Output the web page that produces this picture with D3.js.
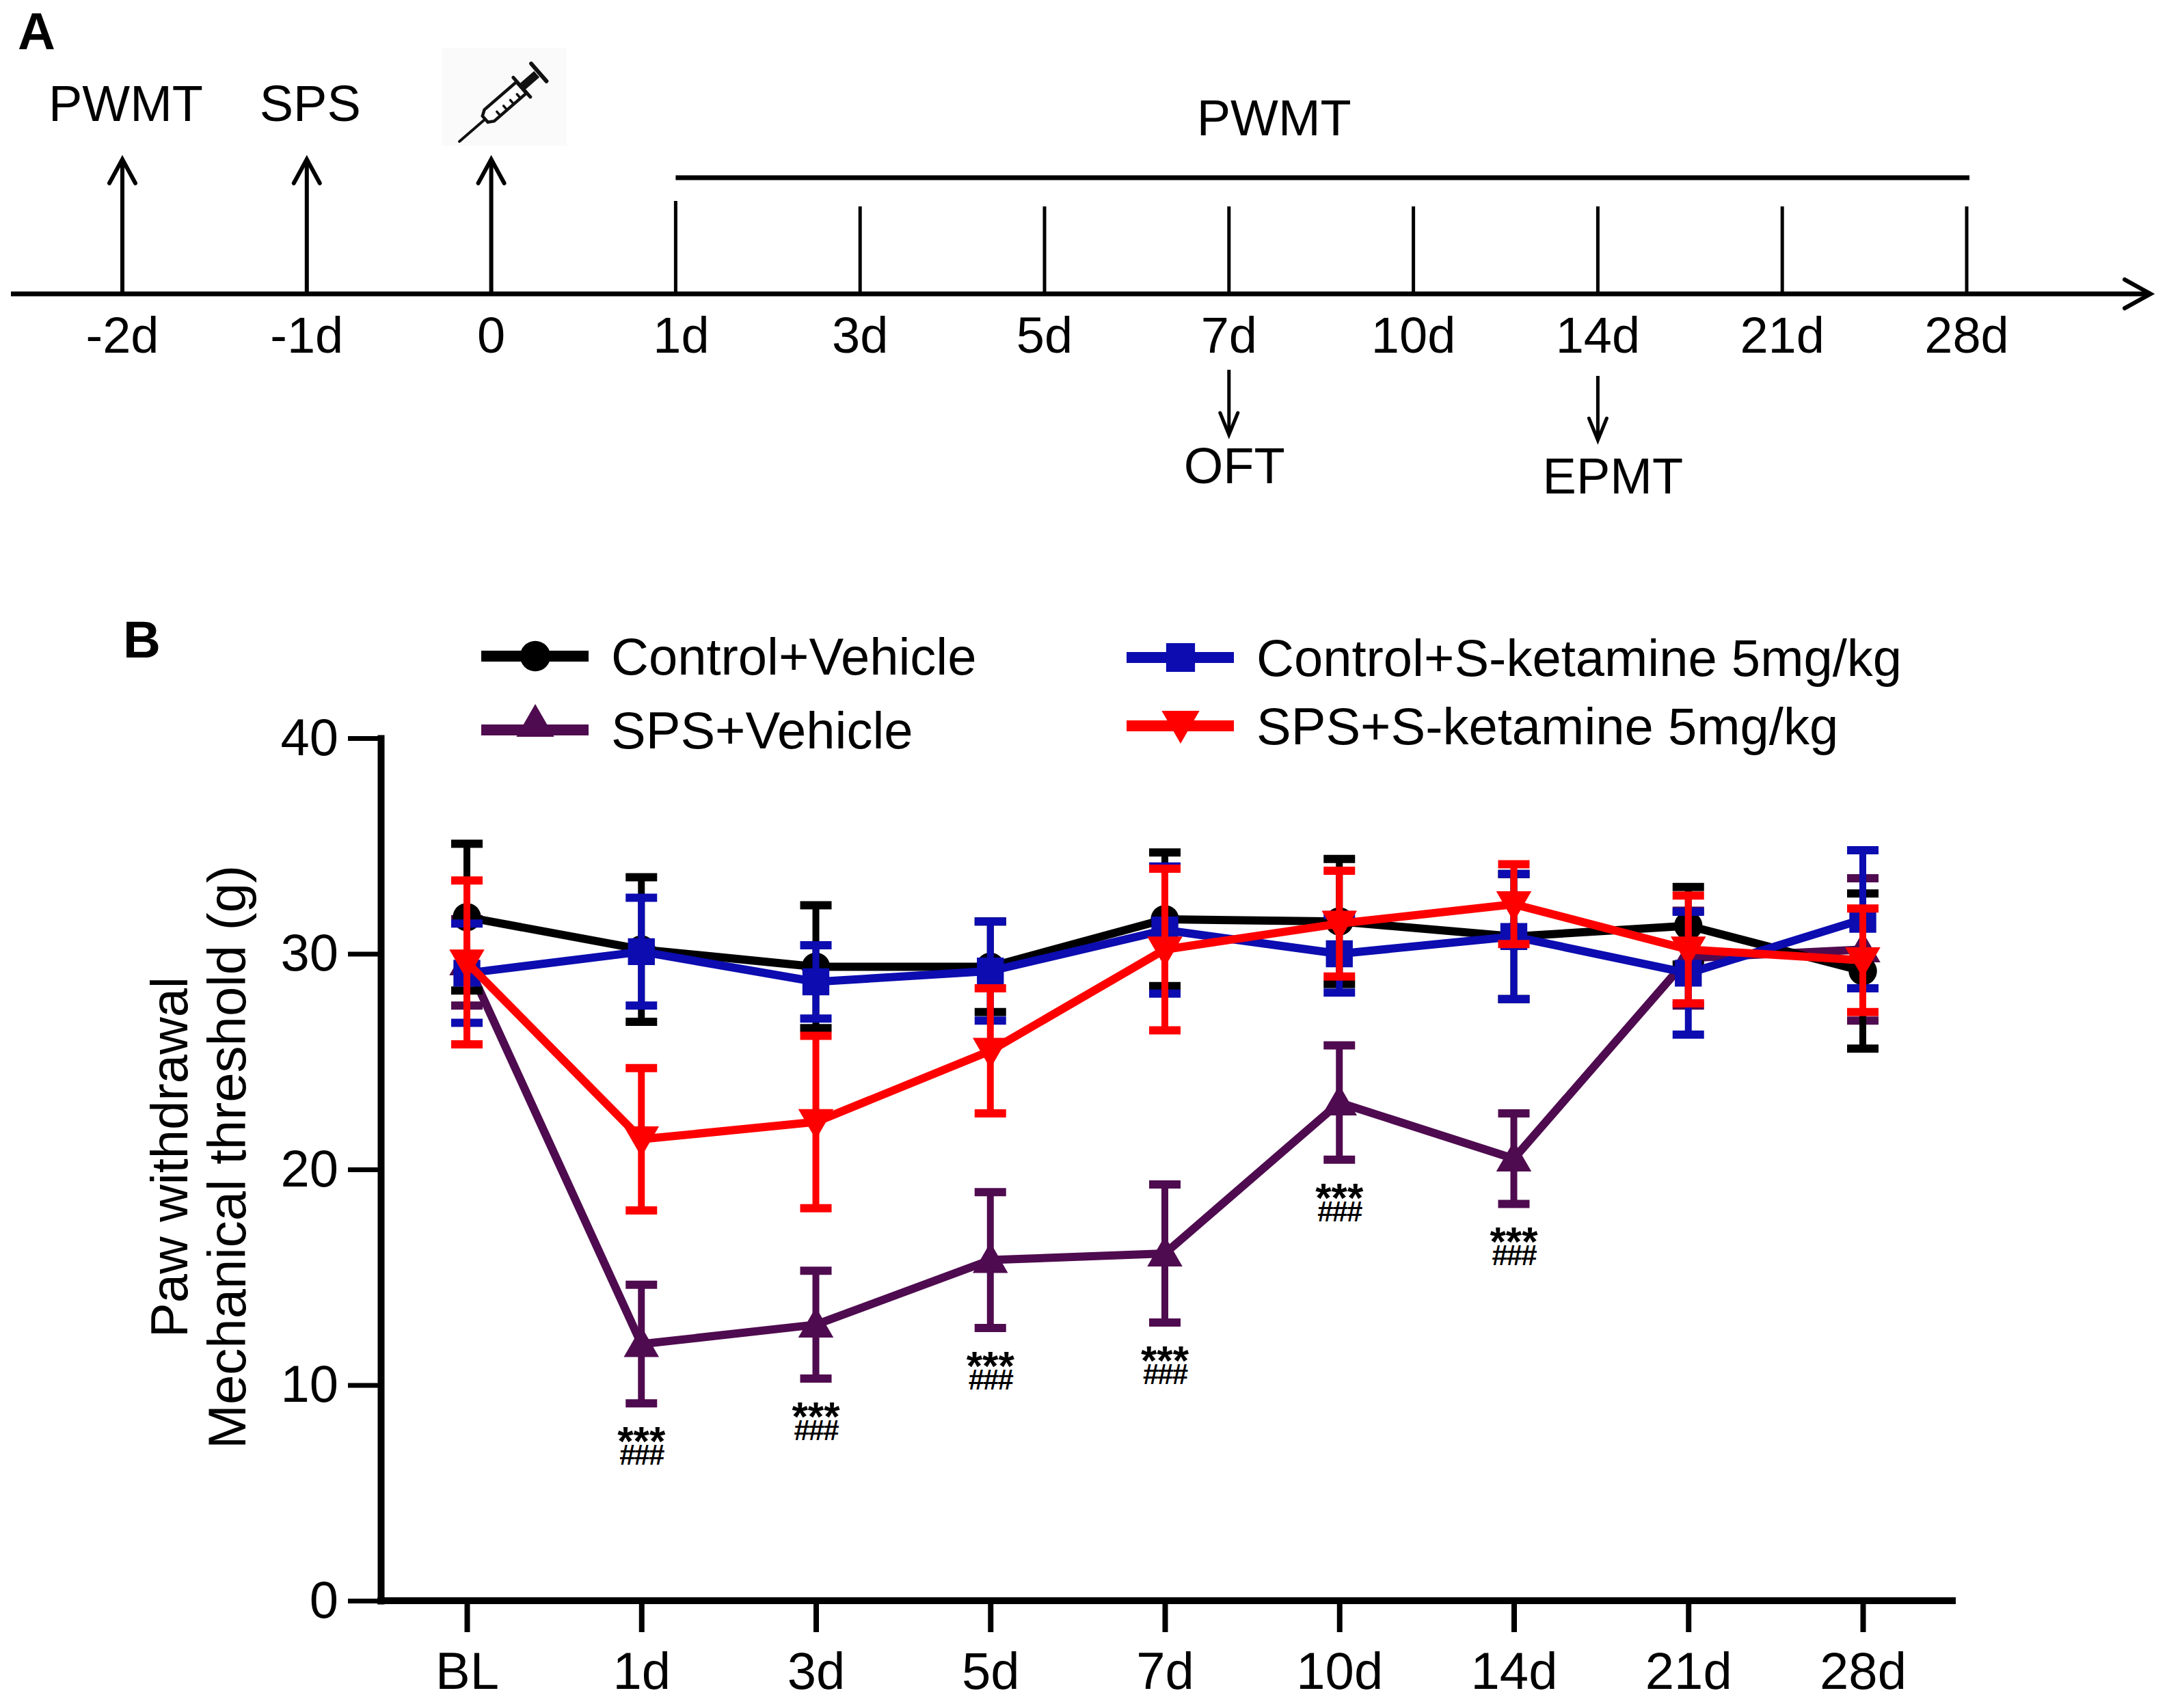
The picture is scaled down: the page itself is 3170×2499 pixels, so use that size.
<!DOCTYPE html>
<html>
<head>
<meta charset="utf-8">
<script src="https://cdn.jsdelivr.net/npm/d3@7/dist/d3.min.js"></script>
<style>
  html, body { margin: 0; padding: 0; background: #fff; }
  text { font-family: "Liberation Sans", Arial, Helvetica, sans-serif; }
</style>
</head>
<body>
<svg id="chart" width="3170" height="2499"></svg>
<script>
// ---------------- DATA ----------------
// Panel A timeline
const timelineLabels = ["-2d", "-1d", "0", "1d", "3d", "5d", "7d", "10d", "14d", "21d", "28d"];
const upEventDays = ["-2d", "-1d", "0"];
const upEventLabels = ["PWMT", "SPS", ""]; // "" = syringe icon
const pwmtDays = ["1d", "3d", "5d", "7d", "10d", "14d", "21d", "28d"];
const downEventDays = ["7d", "14d"];
const downEventLabels = ["OFT", "EPMT"];
const pwmtBarLabel = "PWMT";

// Panel B
const days = ["BL", "1d", "3d", "5d", "7d", "10d", "14d", "21d", "28d"];
const yTicks = [0, 10, 20, 30, 40];

const seriesNames = ["Control+Vehicle", "SPS+Vehicle", "Control+S-ketamine 5mg/kg", "SPS+S-ketamine 5mg/kg"];
const ctrlVehMean = [31.7, 30.2, 29.4, 29.4, 31.6, 31.5, 30.8, 31.3, 29.2];
const ctrlVehSem  = [3.4, 3.35, 2.85, 2.1, 3.1, 2.9, 2.9, 1.8, 3.6];
const spsVehMean  = [29.6, 11.9, 12.8, 15.8, 16.1, 23.1, 20.5, 29.8, 30.2];
const spsVehSem   = [2.0, 2.75, 2.5, 3.15, 3.2, 2.65, 2.1, 2.2, 3.3];
const ctrlKetMean = [29.1, 30.1, 28.7, 29.2, 31.1, 30.0, 30.8, 29.1, 31.6];
const ctrlKetSem  = [2.3, 2.5, 1.7, 2.3, 2.95, 1.8, 2.9, 2.85, 3.2];
const spsKetMean  = [29.6, 21.4, 22.2, 25.5, 30.2, 31.4, 32.3, 30.2, 29.7];
const spsKetSem   = [3.8, 3.3, 4.0, 2.9, 3.75, 2.45, 1.85, 2.5, 2.4];

const sigDays = ["1d", "3d", "5d", "7d", "10d", "14d"];
const sigLine1 = "***";
const sigLine2 = "###";

// ---------------- STYLE ----------------
const colors = { ctrlVeh: "#000000", spsVeh: "#4f0b4f", ctrlKet: "#0c0cb0", spsKet: "#ff0000" };
const FONT = "Liberation Sans, Arial, sans-serif";

const svg = d3.select("#chart");

// =============== PANEL A ===============
svg.append("text").attr("x", 26).attr("y", 72).attr("font-size", 76).attr("font-weight", "bold").text("A");

const tx = d3.scalePoint().domain(timelineLabels).range([179, 2877]);
const tAxisY = 430;
const gA = svg.append("g");

// faint box behind syringe
gA.append("rect").attr("x", 646).attr("y", 70).attr("width", 183).attr("height", 143).attr("fill", "#fafafa");

// main axis line with arrow
gA.append("line").attr("x1", 16).attr("x2", 3146).attr("y1", tAxisY).attr("y2", tAxisY)
  .attr("stroke", "#000").attr("stroke-width", 7);
gA.append("path").attr("d", `M3108,${tAxisY - 21} L3146,${tAxisY} L3108,${tAxisY + 21}`)
  .attr("fill", "none").attr("stroke", "#000").attr("stroke-width", 6).attr("stroke-linecap", "round");

// tick labels
gA.selectAll("text.tl").data(timelineLabels).join("text").attr("class", "tl")
  .attr("x", d => tx(d) + (d === "1d" ? 8 : 0)).attr("y", 516).attr("text-anchor", "middle").attr("font-size", 74).text(d => d);

// up arrows
upEventDays.forEach((d, i) => {
  const x = tx(d);
  gA.append("line").attr("x1", x).attr("x2", x).attr("y1", tAxisY).attr("y2", 234)
    .attr("stroke", "#000").attr("stroke-width", 6);
  gA.append("path").attr("d", `M${x - 19},268 L${x},233 L${x + 19},268`)
    .attr("fill", "none").attr("stroke", "#000").attr("stroke-width", 6).attr("stroke-linecap", "round");
  if (upEventLabels[i]) {
    gA.append("text").attr("x", x + 5).attr("y", 177).attr("text-anchor", "middle").attr("font-size", 74).text(upEventLabels[i]);
  }
});

// syringe icon above "0"
(function drawSyringe() {
  const g = gA.append("g").attr("transform", `translate(672,207) rotate(-41)`)
    .attr("stroke", "#111").attr("fill", "none").attr("stroke-linecap", "round");
  g.append("line").attr("x1", 0).attr("x2", 52).attr("y1", 0).attr("y2", 0).attr("stroke-width", 4);
  g.append("path").attr("d", "M50,-6 L58,-11 L120,-11 L120,11 L58,11 L50,6 Z").attr("stroke-width", 4.5).attr("fill", "#fff");
  [70, 83, 96, 109].forEach(v => g.append("line").attr("x1", v).attr("x2", v).attr("y1", 11).attr("y2", 3).attr("stroke-width", 3.5));
  g.append("line").attr("x1", 121).attr("x2", 121).attr("y1", -19).attr("y2", 19).attr("stroke-width", 5);
  g.append("line").attr("x1", 122).attr("x2", 150).attr("y1", 0).attr("y2", 0).attr("stroke-width", 12).attr("stroke-linecap", "butt");
  g.append("line").attr("x1", 154).attr("x2", 154).attr("y1", -17).attr("y2", 17).attr("stroke-width", 6);
})();

// PWMT ticks
gA.selectAll("line.pt").data(pwmtDays).join("line").attr("class", "pt")
  .attr("x1", d => tx(d)).attr("x2", d => tx(d)).attr("y1", (d, i) => i === 0 ? 294 : 302).attr("y2", tAxisY)
  .attr("stroke", "#000").attr("stroke-width", 5);
// PWMT bar
gA.append("line").attr("x1", tx(pwmtDays[0])).attr("x2", tx(pwmtDays[pwmtDays.length - 1]) + 4)
  .attr("y1", 260).attr("y2", 260).attr("stroke", "#000").attr("stroke-width", 7);
gA.append("text").attr("x", tx("7d") + 66).attr("y", 198)
  .attr("text-anchor", "middle").attr("font-size", 74).text(pwmtBarLabel);

// down arrows
downEventDays.forEach((d, i) => {
  const x = tx(d);
  const top = i === 0 ? 541 : 550, tip = i === 0 ? 636 : 644;
  gA.append("line").attr("x1", x).attr("x2", x).attr("y1", top).attr("y2", tip - 2).attr("stroke", "#000").attr("stroke-width", 5);
  gA.append("path").attr("d", `M${x - 13},${tip - 32} L${x},${tip} L${x + 13},${tip - 32}`)
    .attr("fill", "none").attr("stroke", "#000").attr("stroke-width", 5).attr("stroke-linecap", "round");
  gA.append("text").attr("x", x + (i === 0 ? 8 : 22)).attr("y", i === 0 ? 707 : 722).attr("text-anchor", "middle")
    .attr("font-size", 74).text(downEventLabels[i]);
});

// =============== PANEL B ===============
svg.append("text").attr("x", 180).attr("y", 962).attr("font-size", 76).attr("font-weight", "bold").text("B");

const axisX = 557, axisRight = 2861;
const x = d3.scalePoint().domain(days).range([683, 2725]);
const y = d3.scaleLinear().domain([0, 40]).range([2342, 1080]);

// Y axis
const yAxis = svg.append("g").attr("transform", `translate(${axisX},0)`)
  .call(d3.axisLeft(y).tickValues(yTicks).tickSize(48).tickSizeOuter(0).tickPadding(14));
yAxis.select(".domain").attr("stroke-width", 10).attr("stroke-linecap", "square");
yAxis.selectAll(".tick line").attr("stroke-width", 7);
yAxis.selectAll(".tick text").attr("font-size", 76).attr("font-family", FONT).attr("fill", "#000");

// X axis
const xAxis = svg.append("g").attr("transform", `translate(0,${y(0)})`)
  .call(d3.axisBottom(x).tickSize(46).tickSizeOuter(0).tickPadding(22));
xAxis.select(".domain").remove();
xAxis.append("line").attr("x1", axisX - 5).attr("x2", axisRight).attr("y1", 0).attr("y2", 0)
  .attr("stroke", "#000").attr("stroke-width", 10);
xAxis.selectAll(".tick line").attr("stroke-width", 8);
xAxis.selectAll(".tick text").attr("font-size", 76).attr("font-family", FONT).attr("fill", "#000").attr("dy", "0.8em");

// Y axis label
const yMid = (y(0) + y(40)) / 2 - 18;
svg.append("text").attr("transform", `translate(247,${yMid}) rotate(-90)`).attr("text-anchor", "middle")
  .attr("dy", "0.36em").attr("font-size", 76).text("Paw withdrawal");
svg.append("text").attr("transform", `translate(331,${yMid}) rotate(-90)`).attr("text-anchor", "middle")
  .attr("dy", "0.36em").attr("font-size", 78).text("Mechanical threshold (g)");

// series
const series = [
  { name: seriesNames[1], mean: spsVehMean, sem: spsVehSem, color: colors.spsVeh, sym: d3.symbolTriangle, size: 1150, rot: 0 },
  { name: seriesNames[0], mean: ctrlVehMean, sem: ctrlVehSem, color: colors.ctrlVeh, sym: d3.symbolCircle, size: 1350, rot: 0 },
  { name: seriesNames[2], mean: ctrlKetMean, sem: ctrlKetSem, color: colors.ctrlKet, sym: d3.symbolSquare, size: 1550, rot: 0 },
  { name: seriesNames[3], mean: spsKetMean, sem: spsKetSem, color: colors.spsKet, sym: d3.symbolTriangle, size: 1150, rot: 180 }
];

const capW = 46;
series.forEach(s => {
  const g = svg.append("g");
  const pts = days.map((d, i) => ({ d, m: s.mean[i], e: s.sem[i] }));
  // error bars
  g.selectAll("line.eb").data(pts).join("line").attr("class", "eb")
    .attr("x1", p => x(p.d)).attr("x2", p => x(p.d)).attr("y1", p => y(p.m + p.e)).attr("y2", p => y(p.m - p.e))
    .attr("stroke", s.color).attr("stroke-width", 10);
  ["+", "-"].forEach(sign => {
    g.selectAll("line.cap" + (sign === "+" ? "t" : "b")).data(pts).join("line").attr("class", "cap" + (sign === "+" ? "t" : "b"))
      .attr("x1", p => x(p.d) - capW / 2).attr("x2", p => x(p.d) + capW / 2)
      .attr("y1", p => y(sign === "+" ? p.m + p.e : p.m - p.e)).attr("y2", p => y(sign === "+" ? p.m + p.e : p.m - p.e))
      .attr("stroke", s.color).attr("stroke-width", 12);
  });
  // line
  g.append("path").datum(pts)
    .attr("d", d3.line().x(p => x(p.d)).y(p => y(p.m)))
    .attr("fill", "none").attr("stroke", s.color).attr("stroke-width", 12).attr("stroke-linejoin", "round");
  // markers
  g.selectAll("path.mk").data(pts).join("path").attr("class", "mk")
    .attr("d", d3.symbol().type(s.sym).size(s.size))
    .attr("transform", p => `translate(${x(p.d)},${y(p.m) + (s.sym === d3.symbolTriangle ? (s.rot ? -4 : 4) : 0)}) rotate(${s.rot})`)
    .attr("fill", s.color);
});

// significance annotations (below SPS+Vehicle error bars), one text with two lines
sigDays.forEach(d => {
  const i = days.indexOf(d);
  const yb = y(spsVehMean[i] - spsVehSem[i]);
  const t = svg.append("text").attr("x", x(d)).attr("y", yb + 76).attr("text-anchor", "middle").attr("font-weight", "bold");
  t.append("tspan").attr("x", x(d)).attr("font-size", 60).text(sigLine1);
  t.append("tspan").attr("x", x(d)).attr("dy", 14).attr("font-size", 42).attr("letter-spacing", -2).text(sigLine2);
});

// legend
const legendItems = [
  { s: series[1], lx: 704, ly: 960 },
  { s: series[0], lx: 704, ly: 1068 },
  { s: series[2], lx: 1648, ly: 962 },
  { s: series[3], lx: 1648, ly: 1062 }
];
legendItems.forEach(it => {
  const g = svg.append("g").attr("transform", `translate(${it.lx},${it.ly})`);
  g.append("line").attr("x1", 0).attr("x2", 157).attr("y1", 0).attr("y2", 0).attr("stroke", it.s.color).attr("stroke-width", 16);
  g.append("path").attr("d", d3.symbol().type(it.s.sym).size(it.s.size * 1.15)())
    .attr("transform", `translate(79,${it.s.sym === d3.symbolTriangle ? -6 : 0}) rotate(${it.s.rot})`)
    .attr("fill", it.s.color);
  g.append("text").attr("x", 190).attr("y", 27).attr("font-size", 76).text(it.s.name);
});
</script>
</body>
</html>
